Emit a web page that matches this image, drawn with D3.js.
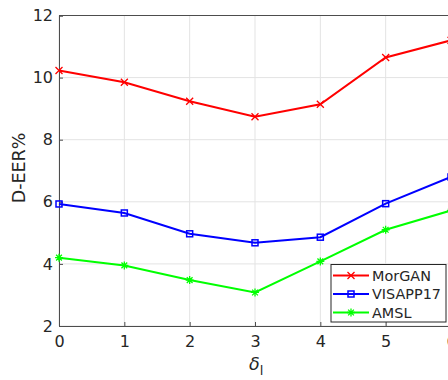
<!DOCTYPE html>
<html>
<head>
<meta charset="utf-8">
<script src="https://cdn.jsdelivr.net/npm/d3@7"></script>
<style>
  body { margin: 0; background: #fff; }
  svg { display: block; overflow: hidden; }
  text { font-family: "DejaVu Sans", sans-serif; fill: #262626; }
</style>
</head>
<body>
<svg id="chart" width="448" height="380"></svg>
<script>
// data
const deltas = [0, 1, 2, 3, 4, 5, 6];
const morgan = [10.23, 9.85, 9.24, 8.74, 9.14, 10.65, 11.2];
const visapp17 = [5.93, 5.64, 4.97, 4.68, 4.86, 5.94, 6.8];
const amsl = [4.2, 3.95, 3.48, 3.08, 4.08, 5.1, 5.72];
const seriesNames = ['MorGAN', 'VISAPP17', 'AMSL'];
const yTicks = [2, 4, 6, 8, 10, 12];

const series = [
  { name: seriesNames[0], values: morgan, color: '#ff0000', marker: 'x' },
  { name: seriesNames[1], values: visapp17, color: '#0000ff', marker: 'square' },
  { name: seriesNames[2], values: amsl, color: '#00ff00', marker: 'star' }
];

const svg = d3.select('#chart');
const plotL = 59, plotR = 451, plotT = 15.5, plotB = 326;

const x = d3.scaleLinear().domain([0, 6]).range([plotL, plotR]);
const y = d3.scaleLinear().domain([2, 12]).range([plotB, plotT]);

// grid
const grid = svg.append('g').attr('stroke', '#e3e3e3').attr('stroke-width', 1);
grid.selectAll('.gx').data(deltas).enter().append('line')
  .attr('x1', d => x(d)).attr('x2', d => x(d))
  .attr('y1', plotT).attr('y2', plotB);
grid.selectAll('.gy').data(yTicks).enter().append('line')
  .attr('x1', plotL).attr('x2', plotR)
  .attr('y1', d => y(d)).attr('y2', d => y(d));

// axes (MATLAB style: ticks inside)
const xAxis = svg.append('g').attr('transform', `translate(0,${plotB})`)
  .call(d3.axisBottom(x).tickValues(deltas).tickSize(-4).tickPadding(9).tickFormat(d3.format('d')));
const yAxis = svg.append('g').attr('transform', `translate(${plotL},0)`)
  .call(d3.axisLeft(y).tickValues(yTicks).tickSize(-4).tickPadding(6));
[xAxis, yAxis].forEach(g => {
  g.selectAll('path, line').attr('stroke', '#4d4d4d');
  g.selectAll('text').attr('font-size', 16).attr('font-family', '"DejaVu Sans", sans-serif').attr('fill', '#262626');
});
xAxis.selectAll('text').attr('dy', '0.75em');
// top and right box lines
svg.append('line').attr('x1', plotL).attr('x2', plotR).attr('y1', plotT).attr('y2', plotT)
  .attr('stroke', '#4d4d4d');
svg.append('line').attr('x1', plotR).attr('x2', plotR).attr('y1', plotT).attr('y2', plotB)
  .attr('stroke', '#4d4d4d');

// axis labels
svg.append('text')
  .attr('transform', 'translate(25,168) rotate(-90)')
  .attr('text-anchor', 'middle').attr('font-size', 17.5)
  .text('D-EER%');
const xl = svg.append('text').attr('x', 249).attr('y', 370).attr('font-size', 17.5);
xl.append('tspan').attr('font-style', 'italic').text('δ');
xl.append('tspan').attr('dy', 5).attr('font-size', 13).text('l');

function drawMarker(g, type, cx, cy, color) {
  const s = 3.5;
  if (type === 'x') {
    g.append('path').attr('d', `M${cx - s},${cy - s}L${cx + s},${cy + s}M${cx - s},${cy + s}L${cx + s},${cy - s}`)
      .attr('stroke', color).attr('stroke-width', 1.3).attr('fill', 'none');
  } else if (type === 'square') {
    g.append('rect').attr('x', cx - 3).attr('y', cy - 3).attr('width', 6).attr('height', 6)
      .attr('stroke', color).attr('stroke-width', 1.5).attr('fill', 'none');
  } else {
    const r = 4;
    let d = `M${cx - r},${cy}L${cx + r},${cy}M${cx},${cy - r}L${cx},${cy + r}`;
    const q = r * 0.72;
    d += `M${cx - q},${cy - q}L${cx + q},${cy + q}M${cx - q},${cy + q}L${cx + q},${cy - q}`;
    g.append('path').attr('d', d).attr('stroke', color).attr('stroke-width', 1.3).attr('fill', 'none');
  }
}

const line = d3.line().x((d, i) => x(deltas[i])).y(d => y(d));
series.forEach(s => {
  const g = svg.append('g');
  g.append('path').datum(s.values).attr('d', line)
    .attr('fill', 'none').attr('stroke', s.color).attr('stroke-width', 2);
  s.values.forEach((v, i) => drawMarker(g, s.marker, x(deltas[i]), y(v), s.color));
});

// legend
const lg = svg.append('g');
lg.append('rect').attr('x', 331).attr('y', 264.5).attr('width', 115).attr('height', 57.5)
  .attr('fill', '#fff').attr('stroke', '#262626').attr('stroke-width', 1);
series.forEach((s, i) => {
  const ly = 275.5 + i * 18.5;
  lg.append('line').attr('x1', 333).attr('x2', 369).attr('y1', ly).attr('y2', ly)
    .attr('stroke', s.color).attr('stroke-width', 2);
  drawMarker(lg, s.marker, 351, ly, s.color);
  lg.append('text').attr('x', 372).attr('y', ly).attr('dy', '0.36em')
    .attr('font-size', 14.4).text(s.name);
});
</script>
</body>
</html>
